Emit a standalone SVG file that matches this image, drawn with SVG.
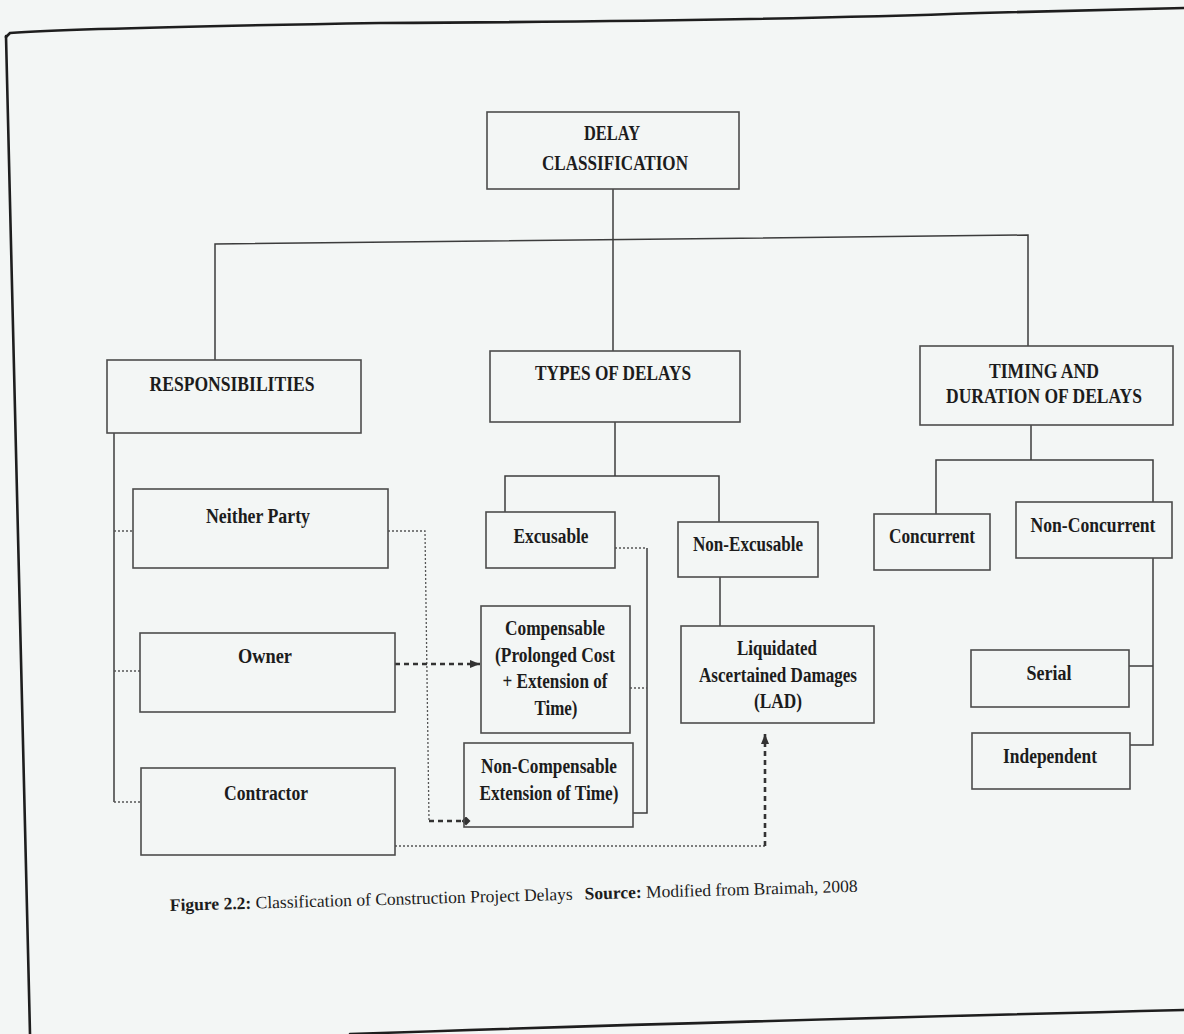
<svg xmlns="http://www.w3.org/2000/svg" width="1184" height="1034" viewBox="0 0 1184 1034">
<defs>
<style>
.bg{fill:#f3f6f5}
.frame{fill:none;stroke:#1e1e1e;stroke-width:2.6;stroke-linecap:round}
.box{fill:none;stroke:#4d4d4d;stroke-width:1.6}
.conn{fill:none;stroke:#3c3c3c;stroke-width:1.5}
.dot{fill:none;stroke:#555;stroke-width:1.3;stroke-dasharray:2 2}
.dash{fill:none;stroke:#333;stroke-width:2.6;stroke-dasharray:5 4}
.lbl{font-family:"Liberation Serif","Times New Roman",serif;font-weight:bold;font-size:20px;fill:#1c1c1c;text-anchor:middle}
.cap{font-family:"Liberation Serif","Times New Roman",serif;font-size:17.5px;fill:#1c1c1c}
.capb{font-weight:bold}
</style>
<marker id="arrow" markerUnits="userSpaceOnUse" markerWidth="10" markerHeight="8" refX="10" refY="4" orient="auto">
<path d="M0,0 L10,4 L0,8 z" fill="#333"/>
</marker>
<marker id="diamond" markerUnits="userSpaceOnUse" markerWidth="9" markerHeight="9" refX="4.5" refY="4.5" orient="auto">
<path d="M0,4.5 L4.5,0 L9,4.5 L4.5,9 z" fill="#333"/>
</marker>
</defs>
<rect class="bg" x="0" y="0" width="1184" height="1034"/>
<g id="frame">
<path class="frame" d="M6,37 L10,33 Q80,28 380,23 Q760,21 980,13 L1184,8"/>
<path class="frame" d="M6,36 L30,1034"/>
<path class="frame" d="M350,1034 Q700,1022 1184,1010"/>
</g>
<g id="connectors">
<path class="conn" d="M613,189 V351"/>
<path class="conn" d="M215,360 V244 L1028,235 V346"/>
<path class="conn" d="M114,433 V802"/>
<path class="dot" d="M114,531 H133"/>
<path class="dot" d="M114,671 H140"/>
<path class="dot" d="M114,802 H141"/>
<path class="dot" d="M388,531 H425 L429,821"/>
<path class="dash" d="M429,821 H466" marker-end="url(#diamond)"/>
<path class="dash" d="M395,664 H480" marker-end="url(#arrow)"/>
<path class="dot" d="M395,846 H765"/>
<path class="dash" d="M765,846 V734" marker-end="url(#arrow)"/>
<path class="conn" d="M615,422 V476"/>
<path class="conn" d="M505,512 V476 H719 V522"/>
<path class="dot" d="M615,548 H647"/>
<path class="conn" d="M647,548 V813 H633"/>
<path class="dot" d="M630,688 H647"/>
<path class="conn" d="M720,577 V626"/>
<path class="conn" d="M1031,425 V460"/>
<path class="conn" d="M936,514 V460 H1153 V502"/>
<path class="conn" d="M1153,558 V745 H1130"/>
<path class="conn" d="M1129,666 H1153"/>
</g>
<g id="delay-classification">
<rect class="box" x="487" y="112" width="252" height="77"/>
<text class="lbl" x="612" y="140" textLength="56" lengthAdjust="spacingAndGlyphs">DELAY</text>
<text class="lbl" x="615" y="170" textLength="146" lengthAdjust="spacingAndGlyphs">CLASSIFICATION</text>
</g>
<g id="responsibilities">
<rect class="box" x="107" y="360" width="254" height="73"/>
<text class="lbl" x="232" y="391" textLength="165" lengthAdjust="spacingAndGlyphs">RESPONSIBILITIES</text>
</g>
<g id="types-of-delays">
<rect class="box" x="490" y="351" width="250" height="71"/>
<text class="lbl" x="613" y="380" textLength="156" lengthAdjust="spacingAndGlyphs">TYPES OF DELAYS</text>
</g>
<g id="timing-duration">
<rect class="box" x="920" y="346" width="253" height="79"/>
<text class="lbl" x="1044" y="378" textLength="110" lengthAdjust="spacingAndGlyphs">TIMING AND</text>
<text class="lbl" x="1044" y="403" textLength="196" lengthAdjust="spacingAndGlyphs">DURATION OF DELAYS</text>
</g>
<g id="neither-party">
<rect class="box" x="133" y="489" width="255" height="79"/>
<text class="lbl" x="258" y="523" textLength="104" lengthAdjust="spacingAndGlyphs">Neither Party</text>
</g>
<g id="owner">
<rect class="box" x="140" y="633" width="255" height="79"/>
<text class="lbl" x="265" y="663" textLength="54" lengthAdjust="spacingAndGlyphs">Owner</text>
</g>
<g id="contractor">
<rect class="box" x="141" y="768" width="254" height="87"/>
<text class="lbl" x="266" y="800" textLength="84" lengthAdjust="spacingAndGlyphs">Contractor</text>
</g>
<g id="excusable">
<rect class="box" x="486" y="512" width="129" height="56"/>
<text class="lbl" x="551" y="543" textLength="75" lengthAdjust="spacingAndGlyphs">Excusable</text>
</g>
<g id="non-excusable">
<rect class="box" x="678" y="522" width="140" height="55"/>
<text class="lbl" x="748" y="551" textLength="110" lengthAdjust="spacingAndGlyphs">Non-Excusable</text>
</g>
<g id="compensable">
<rect class="box" x="481" y="606" width="149" height="127"/>
<text class="lbl" x="555" y="635" textLength="100" lengthAdjust="spacingAndGlyphs">Compensable</text>
<text class="lbl" x="555" y="662" textLength="120" lengthAdjust="spacingAndGlyphs">(Prolonged Cost</text>
<text class="lbl" x="555" y="688" textLength="105" lengthAdjust="spacingAndGlyphs">+ Extension of</text>
<text class="lbl" x="556" y="715" textLength="43" lengthAdjust="spacingAndGlyphs">Time)</text>
</g>
<g id="non-compensable">
<rect class="box" x="464" y="743" width="169" height="84"/>
<text class="lbl" x="549" y="773" textLength="136" lengthAdjust="spacingAndGlyphs">Non-Compensable</text>
<text class="lbl" x="549" y="800" textLength="139" lengthAdjust="spacingAndGlyphs">Extension of Time)</text>
</g>
<g id="lad">
<rect class="box" x="681" y="626" width="193" height="97"/>
<text class="lbl" x="777" y="655" textLength="80" lengthAdjust="spacingAndGlyphs">Liquidated</text>
<text class="lbl" x="778" y="682" textLength="158" lengthAdjust="spacingAndGlyphs">Ascertained Damages</text>
<text class="lbl" x="778" y="708" textLength="48" lengthAdjust="spacingAndGlyphs">(LAD)</text>
</g>
<g id="concurrent">
<rect class="box" x="874" y="514" width="116" height="56"/>
<text class="lbl" x="932" y="543" textLength="86" lengthAdjust="spacingAndGlyphs">Concurrent</text>
</g>
<g id="non-concurrent">
<rect class="box" x="1016" y="502" width="156" height="56"/>
<text class="lbl" x="1093" y="532" textLength="125" lengthAdjust="spacingAndGlyphs">Non-Concurrent</text>
</g>
<g id="serial">
<rect class="box" x="971" y="650" width="158" height="57"/>
<text class="lbl" x="1049" y="680" textLength="45" lengthAdjust="spacingAndGlyphs">Serial</text>
</g>
<g id="independent">
<rect class="box" x="972" y="733" width="158" height="56"/>
<text class="lbl" x="1050" y="763" textLength="94" lengthAdjust="spacingAndGlyphs">Independent</text>
</g>
<g id="caption" transform="rotate(-1.6 170 911)">
<text class="cap" x="170" y="911" textLength="403" lengthAdjust="spacingAndGlyphs"><tspan class="capb">Figure 2.2:</tspan> Classification of Construction Project Delays</text>
<text class="cap" x="585" y="911" textLength="273" lengthAdjust="spacingAndGlyphs"><tspan class="capb">Source:</tspan> Modified from Braimah, 2008</text>
</g>
</svg>
